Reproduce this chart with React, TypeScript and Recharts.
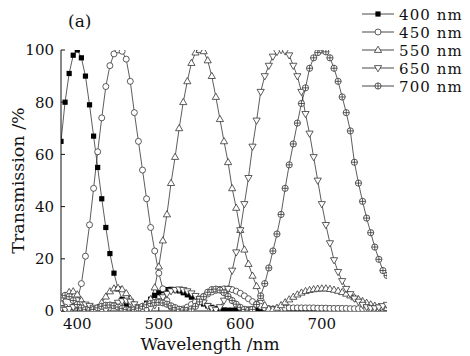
import React from "react";
import { LineChart, Line, XAxis, YAxis, Legend } from "recharts";

const WAVELENGTHS = [
  380, 385, 390, 395, 400, 405, 410, 415, 420, 425,
  430, 435, 440, 445, 450, 455, 460, 465, 470, 475,
  480, 485, 490, 495, 500, 505, 510, 515, 520, 525,
  530, 535, 540, 545, 550, 555, 560, 565, 570, 575,
  580, 585, 590, 595, 600, 605, 610, 615, 620, 625,
  630, 635, 640, 645, 650, 655, 660, 665, 670, 675,
  680, 685, 690, 695, 700, 705, 710, 715, 720, 725,
  730, 735, 740, 745, 750, 755, 760, 765, 770, 775,
  780,
];

const T400 = [
  65, 80, 91, 98, 100, 97, 90, 79, 67, 55,
  43, 32, 22, 14.5, 8.5, 4.5, 2, 0.7, 0.2, 0.5,
  1.5, 3, 4.5, 6, 7, 7.8, 8.2, 8.3, 8.1, 7.7,
  7, 6.2, 5.3, 4.4, 3.5, 2.7, 2, 1.4, 0.9, 0.6,
  0.4, 0.3, 0.3, 0.4, 0.5, 0.6, 0.7, 0.7, 0.8, 0.8,
  0.8, 0.8, 0.8, 0.7, 0.7, 0.7, 0.6, 0.6, 0.6, 0.5,
  0.5, 0.5, 0.5, 0.4, 0.4, 0.4, 0.4, 0.3, 0.3, 0.3,
  0.3, 0.3, 0.3, 0.3, 0.3, 0.3, 0.3, 0.3, 0.3, 0.3,
  0.3,
];

const T450 = [
  3, 1.5, 0.5, 1.5, 4, 10.5, 21, 33, 47, 61,
  74, 86, 94, 98.5, 100, 99.5, 96.5, 88, 76, 65,
  54, 43, 32, 23, 14.5, 8.5, 4, 1.5, 0.5, 0.4,
  0.8, 1.5, 2.5, 3.5, 4.6, 5.6, 6.5, 7.3, 7.9, 8.3,
  8.5, 8.5, 8.2, 7.6, 6.8, 5.8, 4.7, 3.6, 2.6, 1.8,
  1.2, 0.9, 0.8, 0.9, 1, 1.1, 1.2, 1.2, 1.2, 1.2,
  1.2, 1.2, 1.2, 1.1, 1.1, 1.1, 1, 1, 1, 1,
  1, 0.9, 0.9, 0.9, 0.9, 0.8, 0.8, 0.8, 0.8, 0.8,
  0.8,
];

const T550 = [
  3, 5.5, 7.2, 7.5, 6.3, 4, 1.8, 0.5, 0.3, 1.2,
  3.2, 5.5, 7.5, 8.6, 8.8, 8.3, 6.8, 4.6, 2.3, 0.7,
  0.3, 1.5, 4.5, 9, 17, 27, 37, 49, 59, 70,
  80, 88, 95, 99, 100, 99.5, 96, 90, 82, 73.5,
  65, 57, 47, 39.5, 31, 23.5, 18, 13.5, 9.5, 5,
  2.2, 0.8, 0.6, 1.2, 2.2, 3.3, 4.4, 5.4, 6.3, 7,
  7.6, 8, 8.3, 8.5, 8.6, 8.6, 8.4, 8.1, 7.7, 7.2,
  6.6, 5.9, 5.2, 4.5, 3.8, 3.1, 2.5, 2, 1.6, 1.3,
  1.1,
];

const T650 = [
  1, 0.5, 0.8, 1.5, 2.2, 2.6, 2.5, 2, 1.3, 0.6,
  0.3, 0.5, 1.2, 2.2, 3.2, 3.8, 4, 3.6, 2.6, 1.5,
  0.6, 0.4, 1, 2.2, 3.8, 5.3, 6.6, 7.6, 8.1, 8.3,
  8.1, 7.6, 6.8, 5.8, 4.6, 3.3, 2, 1, 0.5, 1.5,
  4, 8.5, 15.5, 22.5, 31, 41, 51, 63, 73, 84,
  90, 94, 97.5, 99.3, 100, 99.5, 98, 94, 90, 84,
  75.5, 68, 59, 50, 41, 33, 26, 19.5, 15, 11.5,
  8.5, 6.5, 4.8, 3.6, 2.4, 1.5, 1.1, 1.1, 1.4, 1.9,
  2.4,
];

const T700 = [
  5, 6, 5.5, 4, 2.5, 1.2, 0.5, 0.3, 0.6, 1.2,
  1.8, 2.2, 2.3, 2, 1.5, 1, 0.5, 0.3, 0.5, 1.1,
  1.8, 2.4, 2.9, 3.2, 3.3, 3.1, 2.6, 2, 1.3, 0.7,
  0.3, 0.3, 0.8, 1.8, 3.5, 5.5, 7.2, 8.2, 8.4, 8,
  7, 5.6, 4, 2.6, 1.4, 0.6, 0.3, 0.6, 2.5, 5.8,
  10.5, 16.5, 23, 29.5, 37, 47, 56, 64, 72, 79.5,
  85.5, 93, 97, 99, 100, 99.3, 97, 93, 88, 82,
  76, 69, 57, 49, 42, 35.6, 30, 24.5, 19.8, 15.5,
  13.6,
];

const X_TICKS = [400, 500, 600, 700];
const Y_TICKS = [0, 20, 40, 60, 80, 100];
const SERIES_LABELS = ["400 nm", "450 nm", "550 nm", "650 nm", "700 nm"];
const SERIES_KEYS = ["t400", "t450", "t550", "t650", "t700"];

const data = WAVELENGTHS.map((wl, i) => ({
  wl,
  t400: T400[i],
  t450: T450[i],
  t550: T550[i],
  t650: T650[i],
  t700: T700[i],
}));

const FONT = "'DejaVu Serif', 'Liberation Serif', serif";
const INK = "#111";
const LINE = "#333";

type MP = { cx: number; cy: number };

const SquareMark = ({ cx, cy }: MP) => (
  <rect x={cx - 2.6} y={cy - 2.6} width={5.2} height={5.2} fill="#000" />
);
const CircleMark = ({ cx, cy }: MP) => (
  <circle cx={cx} cy={cy} r={3} fill="#fff" stroke={LINE} strokeWidth={0.8} />
);
const TriUpMark = ({ cx, cy }: MP) => (
  <polygon
    points={`${cx},${cy - 3.8} ${cx + 3.6},${cy + 2.4} ${cx - 3.6},${cy + 2.4}`}
    fill="#fff"
    stroke={LINE}
    strokeWidth={0.8}
  />
);
const TriDownMark = ({ cx, cy }: MP) => (
  <polygon
    points={`${cx},${cy + 3.8} ${cx + 3.6},${cy - 2.4} ${cx - 3.6},${cy - 2.4}`}
    fill="#fff"
    stroke={LINE}
    strokeWidth={0.8}
  />
);
const CrossCircleMark = ({ cx, cy }: MP) => (
  <g>
    <circle cx={cx} cy={cy} r={3.1} fill="#fff" stroke={LINE} strokeWidth={0.8} />
    <line x1={cx - 3.1} x2={cx + 3.1} y1={cy} y2={cy} stroke={LINE} strokeWidth={0.8} />
    <line x1={cx} x2={cx} y1={cy - 3.1} y2={cy + 3.1} stroke={LINE} strokeWidth={0.8} />
  </g>
);

const MARKS = [SquareMark, CircleMark, TriUpMark, TriDownMark, CrossCircleMark];

const makeDot = (Mark: (p: MP) => React.ReactElement, name: string) => (props: any) => {
  const { cx, cy, index } = props;
  if (cx == null || cy == null) return <g key={`${name}-${index}`} />;
  return (
    <g key={`${name}-${index}`}>
      <Mark cx={cx} cy={cy} />
    </g>
  );
};

const renderLegend = () => (
  <svg width={470} height={110} style={{ display: "block" }}>
    <text x={68} y={27} fontFamily={FONT} fontSize={17} fill={INK}>
      (a)
    </text>
    {SERIES_LABELS.map((label, i) => {
      const y = 14 + i * 18;
      const Mark = MARKS[i];
      return (
        <g key={label}>
          <line x1={362} x2={394} y1={y} y2={y} stroke={LINE} strokeWidth={0.9} />
          <Mark cx={378} cy={y} />
          <text
            x={399}
            y={y + 5.5}
            fontFamily={FONT}
            fontSize={15}
            letterSpacing={1.1}
            fill={INK}
          >
            {label}
          </text>
        </g>
      );
    })}
  </svg>
);

export default function App() {
  return (
    <div style={{ position: "absolute", left: 0, top: 0, width: 470, height: 356, background: "#fff" }}>
      <LineChart
        width={470}
        height={356}
        data={data}
        margin={{ top: 50, right: 83, bottom: 0, left: 0 }}
      >
        <XAxis
          dataKey="wl"
          type="number"
          domain={[380, 780]}
          ticks={X_TICKS}
          allowDataOverflow
          height={45}
          tickSize={-4}
          tickMargin={11}
          axisLine={{ stroke: INK, strokeWidth: 1 }}
          tickLine={{ stroke: INK, strokeWidth: 1 }}
          tick={{ fontFamily: FONT, fontSize: 15, fill: INK }}
          label={{
            value: "Wavelength /nm",
            position: "insideBottom",
            offset: 6,
            dx: -14,
            style: { fontFamily: FONT, fontSize: 17, fill: INK },
          }}
        />
        <YAxis
          type="number"
          domain={[0, 100]}
          ticks={Y_TICKS}
          allowDataOverflow
          width={61}
          tickSize={-4}
          tickMargin={11}
          axisLine={{ stroke: INK, strokeWidth: 1 }}
          tickLine={{ stroke: INK, strokeWidth: 1 }}
          tick={{ fontFamily: FONT, fontSize: 15, fill: INK }}
          label={{
            value: "Transmission /%",
            position: "center",
            angle: -90,
            dx: -13,
            style: { fontFamily: FONT, fontSize: 17.5, fill: INK, textAnchor: "middle" },
          }}
        />
        <Legend
          layout="horizontal"
          verticalAlign="middle"
          align="center"
          content={renderLegend}
          wrapperStyle={{ left: 0, top: 0, width: 470, height: 110 }}
        />
        {SERIES_KEYS.map((key, i) => (
          <Line
            key={key}
            dataKey={key}
            name={SERIES_LABELS[i]}
            type="linear"
            stroke={LINE}
            strokeWidth={0.8}
            dot={makeDot(MARKS[i], key)}
            activeDot={false}
            isAnimationActive={false}
            legendType="none"
          />
        ))}
      </LineChart>
    </div>
  );
}
